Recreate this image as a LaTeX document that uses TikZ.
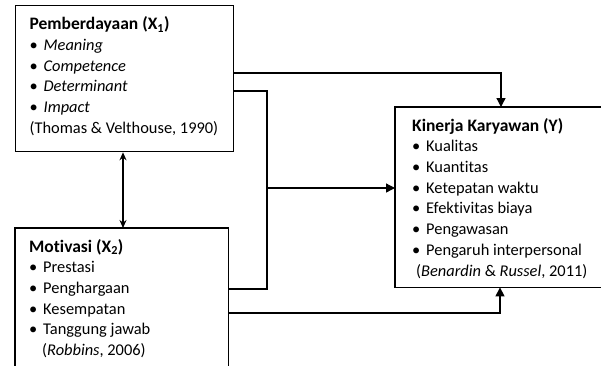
\documentclass[tikz,border=0pt]{standalone}
\usepackage{fontspec}
\setmainfont[Ligatures=NoCommon]{Carlito}
\usetikzlibrary{arrows.meta}
\usetikzlibrary{calc}

\newcommand{\bul}{\makebox[14pt][l]{\textbullet}}
\newcommand{\boxtext}[3]{\begin{minipage}[t][#1][t]{#2}#3\end{minipage}}
\newcommand{\vartitle}[1]{{\fontsize{17.5}{20.7}\selectfont\textbf{#1}}}

\tikzset{
  varbox/.style={anchor=north west, inner xsep=14pt, inner ysep=11pt,
    font=\fontsize{16.4}{20.7}\selectfont},
  conn/.style={line width=1.3pt},
  arr/.style={conn, -{Triangle[length=9pt,width=9pt]}}
}

\begin{document}
\begin{tikzpicture}[x=1pt,y=-1pt]%, pixel grid, y down

\useasboundingbox (0,0) rectangle (601,365);
\clip (0,0) rectangle (601,365);

\node[varbox, draw, line width=1.3pt] (x1) at (15,5) {\boxtext{124pt}{190pt}{%
  \vartitle{Pemberdayaan (X\textsubscript{1})}\\
  \bul\textit{Meaning}\\
  \bul\textit{Competence}\\
  \bul\textit{Determinant}\\
  \bul\textit{Impact}\\
  (Thomas \& Velthouse, 1990)}};

\node[varbox] (x2) at (15,228) {\boxtext{130pt}{185pt}{%
  \vartitle{Motivasi (X\textsubscript{2})}\\
  \bul Prestasi\\
  \bul Penghargaan\\
  \bul Kesempatan\\
  \bul Tanggung jawab\\
  \hspace*{13pt}(\textit{Robbins}, 2006)}};

\node[varbox, inner xsep=17pt] (y) at (395,107) {\boxtext{158pt}{220pt}{%
  \vartitle{Kinerja Karyawan (Y)}\\
  \bul Kualitas\\
  \bul Kuantitas\\
  \bul Ketepatan waktu\\
  \bul Efektivitas biaya\\
  \bul Pengawasan\\
  \bul Pengaruh interpersonal\\
  \hspace*{4pt}(\textit{Benardin} \& \textit{Russel}, 2011)}};

% the two boxes run off the page: bottom of x2, right of y
\draw[conn] (x2.south west) -- (x2.north west) -- (x2.north east) -- (x2.south east);
\draw[conn] (y.north east) -- (y.north west) -- (y.south west) -- (y.south east);

% corners of the connectors
\coordinate (r1) at (501,73);
\coordinate (j1) at (267,91);
\coordinate (j2) at (267,289);
\coordinate (j3) at (267,188);
\coordinate (r2) at (500,313);
\coordinate (d) at (123,0);

\draw[arr] (x1.east |- r1) -- (r1) -- (y.north -| r1);
\draw[conn] (x1.east |- j1) -- (j1) -- (j2) -- (x2.east |- j2);
\draw[arr] (j3) -- (y.west |- j3);
\draw[arr] (x2.east |- r2) -- (r2) -- (y.south -| r2);
\draw[conn, {Stealth[length=8pt,width=7pt]}-{Stealth[length=8pt,width=7pt]}] (x1.south -| d) -- (x2.north -| d);

\end{tikzpicture}
\end{document}
